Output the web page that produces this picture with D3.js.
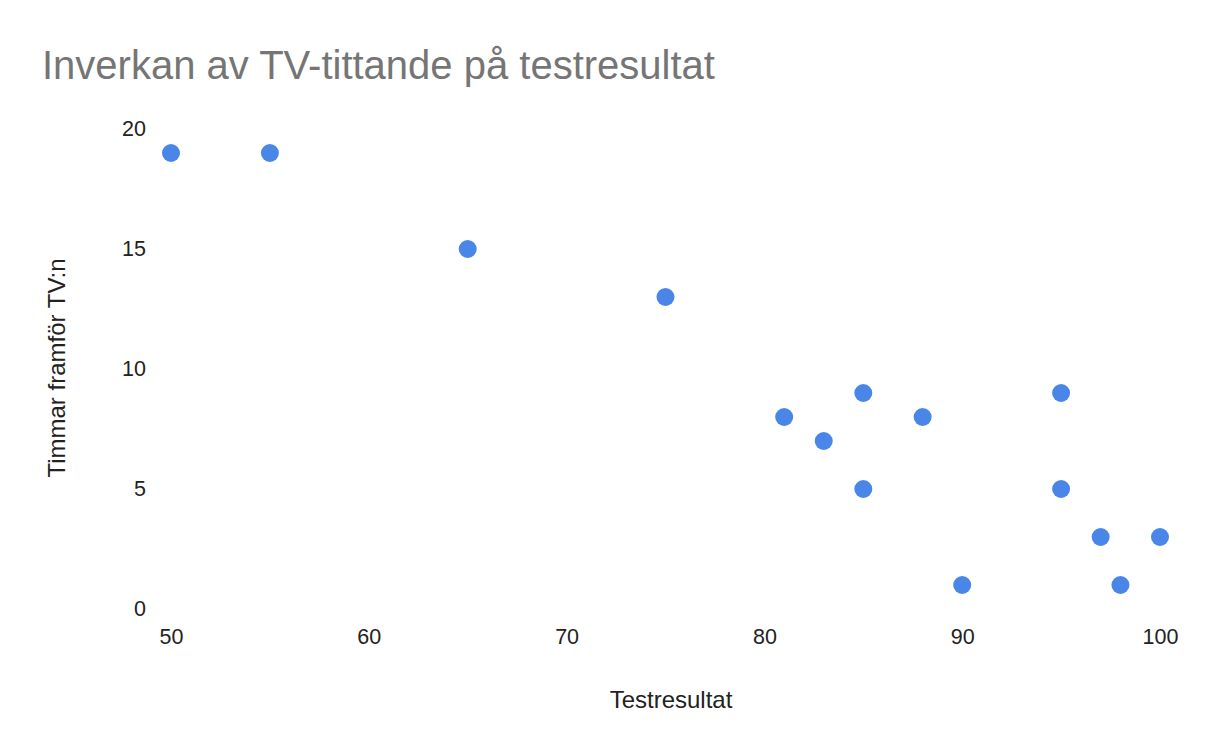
<!DOCTYPE html>
<html>
<head>
<meta charset="utf-8">
<script src="https://cdn.jsdelivr.net/npm/d3@7"></script>
<style>
  body { margin: 0; background: #fff; font-family: "Liberation Sans", Arial, sans-serif; }
</style>
</head>
<body>
<script>
// test score vs hours of TV
const scores = [50, 55, 65, 75, 81, 83, 85, 85, 88, 90, 95, 95, 97, 98, 100];
const hours  = [19, 19, 15, 13, 8, 7, 9, 5, 8, 1, 9, 5, 3, 1, 3];
const xTicks = [50, 60, 70, 80, 90, 100];
const yTicks = [0, 5, 10, 15, 20];

const width = 1230, height = 752;

const x = d3.scaleLinear().domain([50, 100]).range([171, 1160]);
const y = d3.scaleLinear().domain([0, 20]).range([609, 129]);

const svg = d3.select("body").append("svg")
  .attr("width", width)
  .attr("height", height);

svg.append("text")
  .attr("x", 42).attr("y", 79)
  .attr("font-size", 40)
  .attr("fill", "#757575")
  .text("Inverkan av TV-tittande på testresultat");

// axes without lines
const xAxis = svg.append("g")
  .attr("transform", "translate(0,609)")
  .call(d3.axisBottom(x).tickValues(xTicks).tickSize(0).tickPadding(20));
const yAxis = svg.append("g")
  .attr("transform", "translate(146,0)")
  .call(d3.axisLeft(y).tickValues(yTicks).tickSize(0).tickPadding(0));
[xAxis, yAxis].forEach(function (g) {
  g.select(".domain").remove();
  g.selectAll("text")
    .attr("font-size", 21.5)
    .attr("fill", "#222")
    .attr("font-family", "Liberation Sans, Arial, sans-serif");
});

svg.append("text")
  .attr("x", 671).attr("y", 708)
  .attr("text-anchor", "middle")
  .attr("font-size", 24).attr("fill", "#222")
  .text("Testresultat");

svg.append("text")
  .attr("transform", "translate(65,368) rotate(-90)")
  .attr("text-anchor", "middle")
  .attr("font-size", 24).attr("fill", "#222")
  .text("Timmar framför TV:n");

svg.selectAll("circle")
  .data(scores)
  .enter()
    .append("circle")
    .attr("cx", function (d) { return x(d); })
    .attr("cy", function (d, i) { return y(hours[i]); })
    .attr("r", 9)
    .attr("fill", "#4a86e8");
</script>
</body>
</html>
